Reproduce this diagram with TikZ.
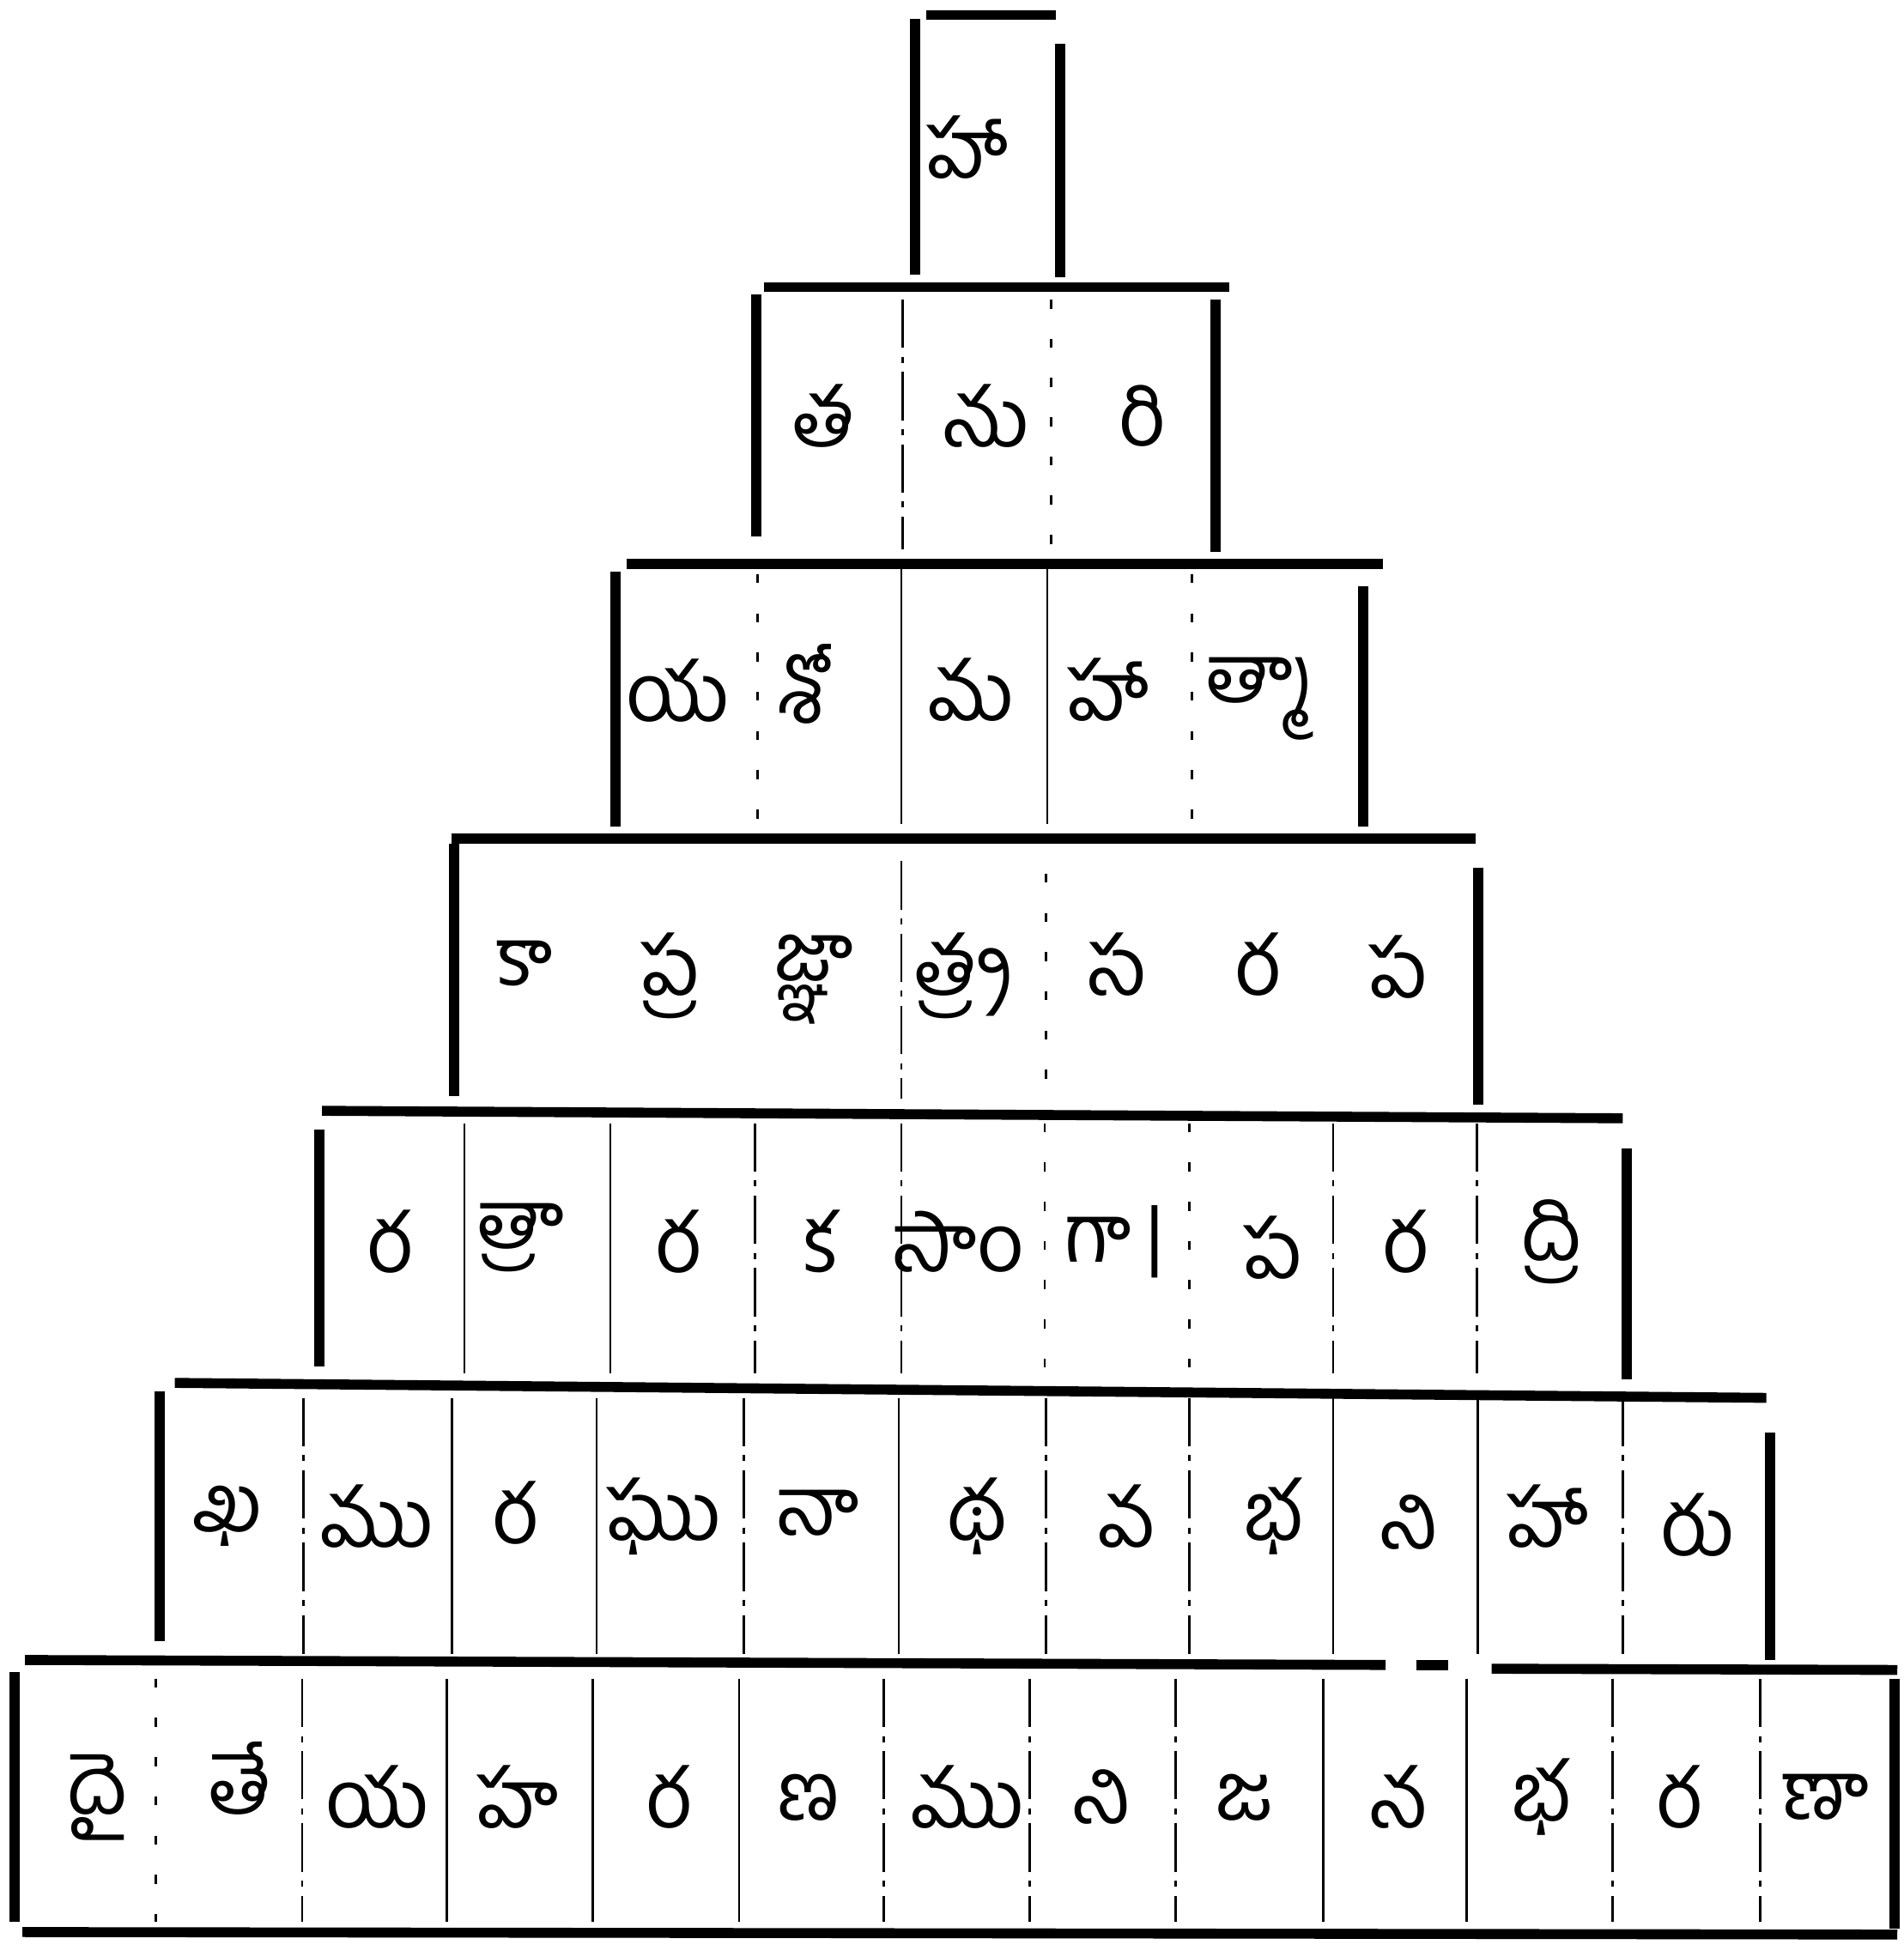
\documentclass[tikz,border=0pt]{standalone}
\usepackage{fontspec}
\newfontfamily\tel[Script=Telugu]{Hind Guntur}
\begin{document}
\begin{tikzpicture}[x=0.014544cm,y=-0.014544cm,
  bar/.style={line width=3.3pt},
  side/.style={line width=3.4pt},
  div/.style={line width=0.75pt},
  divd/.style={line width=0.75pt, dash pattern=on 16pt off 3pt on 2pt off 3pt},
  divo/.style={line width=0.75pt, dash pattern=on 3pt off 10pt},
  glyph/.style={font=\tel\fontsize{27}{27}\selectfont, inner sep=0pt}]
\fill[white] (0,0) rectangle (1525,1568);
\useasboundingbox (0,0) rectangle (1525,1568);
% ---------- row 1
\draw[bar] (742,12) -- (846,12);
\draw[side] (733,15) -- (733,220);
\draw[side] (849,35) -- (849,222);
\node[glyph] (a1) at (775,118) {హా};
% ---------- row 2
\draw[bar] (612,230) -- (985,230);
\draw[side] (606,236) -- (606,430);
\draw[side] (974,240) -- (974,442);
\draw[divd] (723,240) -- (723,440);
\draw[divo] (842,240) -- (842,440);
\node[glyph] (b1) at (660,333) {త};
\node[glyph] (b2) at (790,333) {ను};
\node[glyph] (b3) at (915,333) {రి};
% ---------- row 3
\draw[bar] (502,452) -- (1108,452);
\draw[side] (493,458) -- (493,662);
\draw[side] (1092,470) -- (1092,662);
\draw[divo] (607,460) -- (607,662);
\draw[div] (722,455) -- (722,660);
\draw[div] (839,455) -- (839,660);
\draw[divo] (955,460) -- (955,660);
\node[glyph] (c1) at (543,553) {య};
\node[glyph] (c2) at (645,548) {శో};
\node[glyph] (c3) at (778,553) {మ};
\node[glyph] (c4) at (888,553) {హా};
\node[glyph] (c5) at (1010,560) {త్మా};
% ---------- row 4
\draw[bar] (362,672) -- (1182,672);
\draw[side] (364,676) -- (364,878);
\draw[side] (1184,695) -- (1184,885);
\draw[divd] (722,690) -- (722,880);
\draw[divo] (838,700) -- (838,880);
\node[glyph] (d1) at (420,772) {కా};
\node[glyph] (d2) at (537,782) {ప్ర};
\node[glyph] (d3) at (652,785) {జ్ఞా};
\node[glyph] (d4) at (772,782) {త్ర్వ};
\node[glyph] (d5) at (895,773) {స};
\node[glyph] (d6) at (1007,773) {ర};
\node[glyph] (d7) at (1120,775) {ప};
% ---------- row 5
\draw[bar] (258,890) -- (1300,896);
\draw[side] (256,905) -- (256,1095);
\draw[side] (1303,920) -- (1303,1105);
\foreach \x/\s in {372/div,489/div,605/divd,722/divd,837/divo,953/divo,1068/divd,1183/divd}
  \draw[\s] (\x,900) -- (\x,1100);
\node[glyph] (e1) at (312,995) {ర};
\node[glyph] (e2) at (418,992) {త్రా};
\node[glyph] (e3) at (543,995) {ర};
\node[glyph] (e4) at (658,995) {క};
\node[glyph] (e5) at (768,995) {సాం};
\node[glyph] (e6) at (893,995) {గా\,|};
\node[glyph] (e7) at (1020,1000) {ప};
\node[glyph] (e8) at (1125,995) {ర};
\node[glyph] (e9) at (1243,995) {ద్రి};
% ---------- row 6
\draw[bar] (140,1108) -- (1415,1120);
\draw[side] (128,1115) -- (128,1315);
\draw[side] (1418,1148) -- (1418,1330);
\foreach \x/\s in {243/divd,362/div,478/div,596/divd,720/div,838/divd,953/divd,1068/div,1184/div,1300/divd}
  \draw[\s] (\x,1120) -- (\x,1325);
\node[glyph] (f1) at (182,1215) {ఖ};
\node[glyph] (f2) at (302,1215) {ము};
\node[glyph] (f3) at (412,1212) {ర};
\node[glyph] (f4) at (532,1215) {ఘు};
\node[glyph] (f5) at (655,1212) {నా};
\node[glyph] (f6) at (783,1215) {థ};
\node[glyph] (f7) at (903,1215) {వ};
\node[glyph] (f8) at (1020,1215) {భ};
\node[glyph] (f9) at (1128,1220) {ని};
\node[glyph] (f10) at (1240,1215) {హా};
\node[glyph] (f11) at (1360,1222) {రు};
% ---------- row 7
\draw[bar] (20,1330) -- (1110,1334);
\draw[bar] (1135,1334) -- (1160,1334);
\draw[bar] (1195,1337) -- (1520,1338);
\draw[side] (12,1340) -- (12,1540);
\draw[side] (1518,1345) -- (1518,1545);
\foreach \x/\s in {125/divo,242/divd,358/div,475/div,592/div,708/divd,825/divd,942/divd,1060/div,1175/div,1292/divd,1410/divd}
  \draw[\s] (\x,1345) -- (\x,1540);
\draw[bar] (18,1548) -- (1520,1550);
\node[glyph] (g1) at (78,1440) {దై};
\node[glyph] (g2) at (192,1425) {తే};
\node[glyph] (g3) at (302,1440) {య};
\node[glyph] (g4) at (415,1440) {హ};
\node[glyph] (g5) at (535,1440) {ర};
\node[glyph] (g6) at (648,1440) {ణ};
\node[glyph] (g7) at (775,1440) {ము};
\node[glyph] (g8) at (882,1440) {ని};
\node[glyph] (g9) at (997,1440) {జ};
\node[glyph] (g10) at (1120,1440) {న};
\node[glyph] (g11) at (1235,1440) {భ};
\node[glyph] (g12) at (1345,1440) {ర};
\node[glyph] (g13) at (1462,1440) {ణా};
\end{tikzpicture}
\end{document}
